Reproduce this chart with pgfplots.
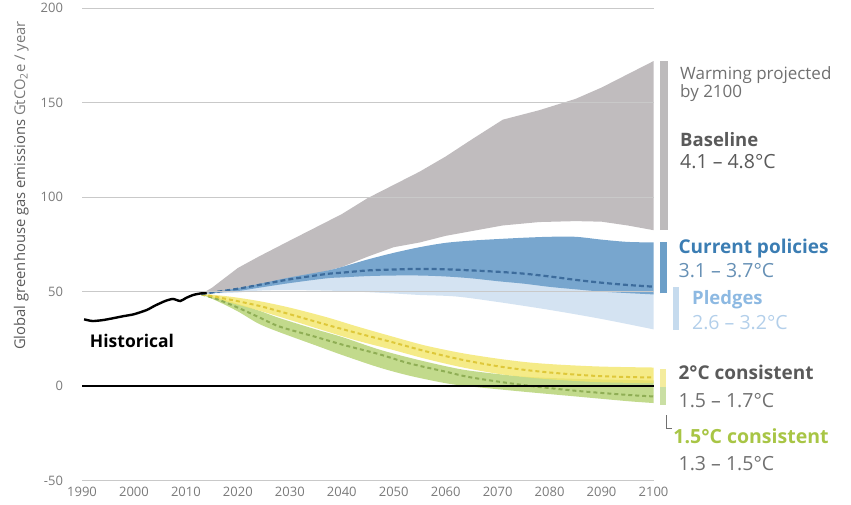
\documentclass[border=0pt]{standalone}
\usepackage{fontspec}
\setmainfont{Open Sans}
\usepackage{pgfplots}
\usepackage{pgfplotstable}
\pgfplotsset{compat=1.18}
\usepgfplotslibrary{fillbetween}

\definecolor{gridgray}{HTML}{C9C9C9}
\definecolor{tickgray}{HTML}{7A7A7A}
\definecolor{bandgray}{HTML}{C0BCBE}
\definecolor{bandblue}{HTML}{78A6CE}
\definecolor{dashblue}{HTML}{3D6C9C}
\definecolor{pledgeblue}{HTML}{D4E3F2}
\definecolor{bandyellow}{HTML}{F3E66A}
\definecolor{dashyellow}{HTML}{DEC83A}
\definecolor{bandgreen}{HTML}{C2DA8C}
\definecolor{dashgreen}{HTML}{8FAE55}
\definecolor{txtgray}{HTML}{5A5A5A}
\definecolor{txtlight}{HTML}{707070}
\definecolor{txtblue}{HTML}{3B7DB3}
\definecolor{txtblue2}{HTML}{6690B5}
\definecolor{txtpl}{HTML}{8DB9E2}
\definecolor{txtpl2}{HTML}{B3CFEA}
\definecolor{txtgreen}{HTML}{A8C545}
\definecolor{bargray}{HTML}{BDBBBC}
\definecolor{barblue}{HTML}{6C9FC8}
\definecolor{barpl}{HTML}{C6DBEE}
\definecolor{baryellow}{HTML}{F4EC9E}
\definecolor{bargreen}{HTML}{CADFA4}

\pgfplotstableread{
x lo hi
2013 48.8 48.8
2015 49.3 52.0
2020 51.0 62.5
2024 53.0 68.5
2030 56.5 77.0
2035 59.5 84.0
2040 63.0 91.0
2045 68.5 99.5
2050 73.5 106.5
2055 76.0 113.5
2060 79.5 121.5
2065 82.0 130.5
2071 85.0 141.0
2078 86.8 146.0
2085 87.3 152.0
2090 87.0 158.0
2095 85.0 165.0
2100 82.5 172.0
}\tblBase

\pgfplotstableread{
x lo mid hi
2013 48.8 48.8 48.8
2015 49.2 49.5 49.6
2020 50.3 51.5 51.8
2024 52.0 53.5 54.0
2030 54.5 56.5 57.5
2037 57.0 59.3 61.0
2040 57.5 60.0 63.0
2045 58.2 61.2 67.0
2050 58.5 61.7 70.5
2055 58.5 62.0 73.5
2060 58.0 61.8 75.8
2065 57.0 61.2 77.0
2070 55.5 60.5 77.8
2075 54.2 59.5 78.5
2080 52.5 58.0 79.0
2085 51.2 56.2 79.0
2090 50.0 54.7 77.5
2095 49.2 53.5 76.3
2100 48.5 52.6 76.0
}\tblCur

\pgfplotstableread{
x lo hi
2013 48.8 48.8
2020 49.5 50.8
2024 50.5 52.5
2030 50.8 55.0
2040 50.3 58.0
2050 49.0 59.0
2055 48.2 59.0
2062 47.4 58.5
2070 44.5 56.0
2080 40.3 53.0
2090 35.5 50.5
2100 30.0 49.0
}\tblPledge

\pgfplotstableread{
x lo mid hi
2013 48.5 48.6 48.8
2018 44.5 46.0 47.5
2024 40.0 42.5 45.0
2030 35.0 38.0 41.5
2037 29.0 32.5 36.5
2043 24.0 28.0 31.5
2050 19.0 23.0 26.0
2056 14.5 18.5 21.5
2063 10.0 14.0 17.5
2070 6.5 10.5 14.5
2076 4.5 8.3 12.5
2082 3.2 6.7 11.3
2090 2.0 5.2 10.3
2100 1.5 4.5 9.8
}\tblTwo

\pgfplotstableread{
x lo mid hi
2013 48.5 48.5 48.5
2016 45.0 46.0 46.8
2020 39.5 41.5 43.5
2024 33.0 36.5 40.0
2028 28.5 31.5 36.0
2035 21.5 26.0 30.0
2040 16.5 22.0 26.0
2047 10.0 17.0 19.5
2053 5.5 12.0 15.0
2060 1.5 7.6 10.5
2065 -0.3 4.5 8.0
2075 -3.0 0.5 5.0
2085 -5.5 -2.5 3.8
2095 -8.0 -4.7 3.2
2100 -9.0 -5.5 3.0
}\tblOneFive

\pgfplotstableread{
x y
1990.4 35.3
1991.2 34.8
1992.1 34.4
1994 34.9
1996 35.9
1998 37.0
2000 38.0
2002.5 40.3
2004 42.5
2006 45.0
2007.5 46.1
2008.9 45.0
2010 46.6
2011.4 48.2
2012.8 49.0
2014.0 49.3
}\tblHist

\begin{document}
\begin{tikzpicture}
\begin{axis}[
  scale only axis,
  width=571.5pt, height=472.3pt,
  xmin=1990, xmax=2100, ymin=-50, ymax=200,
  xtick={1990,2000,...,2100},
  ytick={-50,50,100,150,200},
  extra y ticks={0},
  extra y tick style={grid=none},
  axis line style={draw=none},
  tick style={draw=none},
  ymajorgrids,
  grid style={color=gridgray, line width=1pt},
  /pgf/number format/assume math mode=true,
  /pgf/number format/1000 sep={},
  x tick label style={font=\fontsize{13}{13}\selectfont, text=tickgray, yshift=-3pt},
  y tick label style={font=\fontsize{13}{13}\selectfont, text=tickgray, xshift=-15.5pt},
  clip=false,
  axis on top,
]
% Baseline band
\addplot[name path=gl, draw=none, forget plot] table[x=x,y=lo]{\tblBase};
\addplot[name path=gu, draw=none, forget plot] table[x=x,y=hi]{\tblBase};
\addplot[fill=bandgray, draw=none, forget plot] fill between[of=gl and gu];
% Pledges band
\addplot[name path=pl, draw=none, smooth, forget plot] table[x=x,y=lo]{\tblPledge};
\addplot[name path=pu, draw=none, smooth, forget plot] table[x=x,y=hi]{\tblPledge};
\addplot[fill=pledgeblue, draw=none, forget plot] fill between[of=pl and pu];
% Current policies band
\addplot[name path=cl, draw=none, smooth, forget plot] table[x=x,y=lo]{\tblCur};
\addplot[name path=cu, draw=none, smooth, forget plot] table[x=x,y=hi]{\tblCur};
\addplot[fill=bandblue, draw=none, forget plot] fill between[of=cl and cu];
% 1.5C band
\addplot[name path=fl, draw=none, smooth, forget plot] table[x=x,y=lo]{\tblOneFive};
\addplot[name path=fu, draw=none, smooth, forget plot] table[x=x,y=hi]{\tblOneFive};
\addplot[fill=bandgreen, draw=none, forget plot] fill between[of=fl and fu];
% 2C band
\addplot[name path=tl, draw=none, smooth, forget plot] table[x=x,y=lo]{\tblTwo};
\addplot[name path=tu, draw=none, smooth, forget plot] table[x=x,y=hi]{\tblTwo};
\addplot[fill=bandyellow, fill opacity=0.8, draw=none, forget plot] fill between[of=tl and tu];
% medians
\addplot[dashgreen, line width=2pt, dash pattern=on 4pt off 3pt, smooth] table[x=x,y=mid]{\tblOneFive};
\addplot[dashyellow, line width=2pt, dash pattern=on 4pt off 3pt, smooth] table[x=x,y=mid]{\tblTwo};
\addplot[dashblue, line width=2.2pt, dash pattern=on 5pt off 3pt, smooth] table[x=x,y=mid]{\tblCur};
% zero line
\addplot[black, line width=2pt] coordinates {(1990,0) (2100,0)};
% historical
\addplot[black, line width=2.4pt, smooth, tension=0.4] table[x=x,y=y]{\tblHist};
% range bars
\addplot[bargray, line width=8pt] coordinates {(2102.0,82.5) (2102.0,172)};
\addplot[barblue, line width=7pt] coordinates {(2101.9,49.0) (2101.9,76.0)};
\addplot[barpl, line width=6pt] coordinates {(2104.3,29.7) (2104.3,52.5)};
\addplot[baryellow, line width=6pt] coordinates {(2101.9,-0.5) (2101.9,9.0)};
\addplot[bargreen, line width=6pt] coordinates {(2101.9,-10.0) (2101.9,-0.5)};
\draw[txtlight, line width=0.8pt] (axis cs:2102.4,-15.5) |- (axis cs:2103.6,-22.4);
% texts
\node[anchor=base west, font=\fontsize{17}{17}\selectfont, text=txtlight, inner sep=0pt] at (axis cs:2105.1,162.0) {Warming projected};
\node[anchor=base west, font=\fontsize{17}{17}\selectfont, text=txtlight, inner sep=0pt] at (axis cs:2105.1,152.5) {by 2100};
\node[anchor=base west, font=\fontsize{18.5}{18.5}\selectfont\bfseries, text=txtgray, inner sep=0pt] at (axis cs:2105.1,126.8) {Baseline};
\node[anchor=base west, font=\fontsize{19.5}{19.5}\selectfont, text=txtgray, inner sep=0pt] at (axis cs:2105.1,114.9) {4.1 -- 4.8°C};
\node[anchor=base west, font=\fontsize{19}{19}\selectfont\bfseries, text=txtblue, inner sep=0pt] at (axis cs:2104.8,69.9) {Current policies};
\node[anchor=base west, font=\fontsize{19.5}{19.5}\selectfont, text=txtblue2, inner sep=0pt] at (axis cs:2104.8,57.6) {3.1 -- 3.7°C};
\node[anchor=base west, font=\fontsize{18.5}{18.5}\selectfont\bfseries, text=txtpl, inner sep=0pt] at (axis cs:2107.4,42.9) {Pledges};
\node[anchor=base west, font=\fontsize{19.5}{19.5}\selectfont, text=txtpl2, inner sep=0pt] at (axis cs:2107.4,29.7) {2.6 -- 3.2°C};
\node[anchor=base west, font=\fontsize{19}{19}\selectfont\bfseries, text=txtgray, inner sep=0pt] at (axis cs:2104.8,3.2) {2°C consistent};
\node[anchor=base west, font=\fontsize{19.5}{19.5}\selectfont, text=txtlight, inner sep=0pt] at (axis cs:2104.8,-11.1) {1.5 -- 1.7°C};
\node[anchor=base west, font=\fontsize{19.5}{19.5}\selectfont\bfseries, text=txtgreen, inner sep=0pt] at (axis cs:2103.8,-30.2) {1.5°C consistent};
\node[anchor=base west, font=\fontsize{19.5}{19.5}\selectfont, text=txtlight, inner sep=0pt] at (axis cs:2104.8,-44.5) {1.3 -- 1.5°C};
\node[anchor=base west, font=\fontsize{17.5}{17.5}\selectfont\bfseries, text=black, inner sep=0pt] at (axis cs:1991.5,20.6) {Historical};
\node[rotate=90, anchor=center, font=\fontsize{14.8}{14.8}\selectfont, inner sep=0pt] at (axis cs:1978.3,106.1) {\textcolor{txtgray}{Global greenhouse gas emissions}\ \textcolor{tickgray}{GtCO\textsubscript{2}e / year}};
\end{axis}
\pgfresetboundingbox
\useasboundingbox (-82pt,-23.5pt) rectangle (769pt,480.5pt);
\end{tikzpicture}
\end{document}
